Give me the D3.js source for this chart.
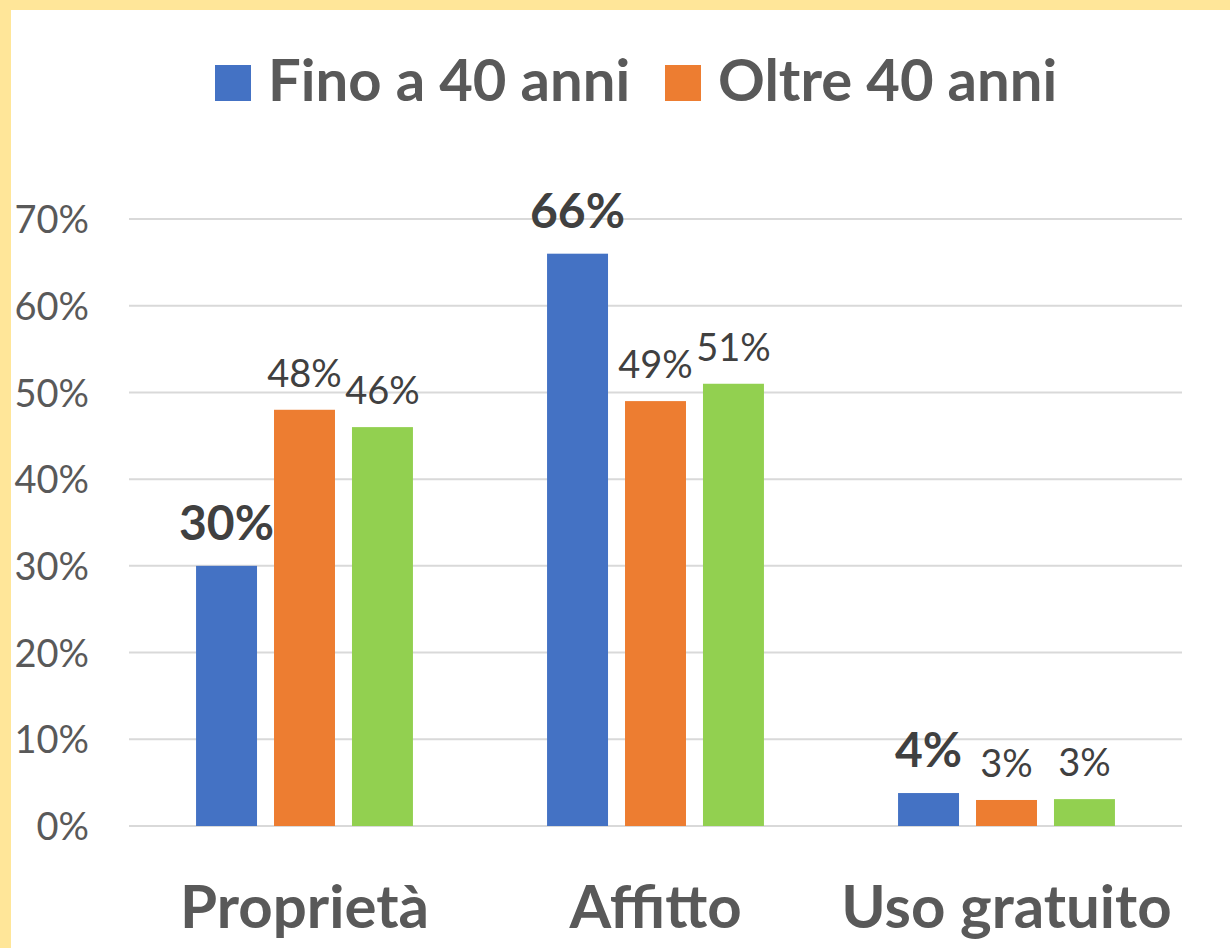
<!DOCTYPE html>
<html>
<head>
<meta charset="utf-8">
<script src="https://cdn.jsdelivr.net/npm/d3@7"></script>
<style>
  body { margin: 0; background: #fff; }
  text { font-family: Lato, "Open Sans", sans-serif; }
</style>
</head>
<body>
<svg width="1230" height="948"></svg>
<script>
var categories = ["Proprietà", "Affitto", "Uso gratuito"];
var seriesNames = ["Fino a 40 anni", "Oltre 40 anni", ""];
var fino40 = [30, 66, 3.8];
var oltre40 = [48, 49, 3.0];
var totale = [46, 51, 3.1];
var yTicks = [0, 10, 20, 30, 40, 50, 60, 70];

var colors = ["#4472C4", "#ED7D31", "#92D050"];
var series = [fino40, oltre40, totale];

var svg = d3.select("svg"),
    width = +svg.attr("width"),
    height = +svg.attr("height");

// yellow frame
svg.append("rect").attr("width", width).attr("height", height).attr("fill", "#FFE699");
svg.append("rect").attr("x", 11).attr("y", 10).attr("width", width - 11).attr("height", height - 10).attr("fill", "#fff");

var x0 = d3.scaleBand()
    .domain(categories)
    .range([129, 1182]);

var x1 = d3.scaleBand()
    .domain([0, 1, 2])
    .range([0, x0.bandwidth()])
    .paddingInner(0.218)
    .paddingOuter(0.86);

var y = d3.scaleLinear()
    .domain([0, 70])
    .range([826, 219]);

// gridlines
svg.append("g")
  .selectAll("line")
  .data(yTicks)
  .enter().append("line")
    .attr("x1", 129)
    .attr("x2", 1182)
    .attr("y1", function(d) { return y(d); })
    .attr("y2", function(d) { return y(d); })
    .attr("stroke", "#d9d9d9")
    .attr("stroke-width", 2);

// y axis labels
var yAxis = svg.append("g")
    .attr("transform", "translate(89,0)")
    .call(d3.axisLeft(y)
      .tickValues(yTicks)
      .tickSize(0)
      .tickPadding(0)
      .tickFormat(function(d) { return d + "%"; }));
yAxis.select(".domain").remove();
yAxis.selectAll("text")
    .attr("fill", "#595959")
    .attr("font-size", 38)
    .attr("font-family", "Lato, sans-serif")
    .attr("dy", "0.36em");

// bars
var groups = svg.append("g")
  .selectAll("g")
  .data(categories)
  .enter().append("g")
    .attr("transform", function(d) { return "translate(" + x0(d) + ",0)"; });

groups.selectAll("rect")
  .data(function(d, i) { return series.map(function(s, k) { return { k: k, v: s[i] }; }); })
  .enter().append("rect")
    .attr("x", function(d) { return x1(d.k); })
    .attr("width", x1.bandwidth())
    .attr("y", function(d) { return y(d.v); })
    .attr("height", function(d) { return y(0) - y(d.v); })
    .attr("fill", function(d) { return colors[d.k]; });

groups.selectAll(".lab")
  .data(function(d, i) { return series.map(function(s, k) { return { k: k, v: s[i] }; }); })
  .enter().append("text")
    .attr("class", "lab")
    .attr("x", function(d) { return x1(d.k) + x1.bandwidth() / 2; })
    .attr("y", function(d) { return y(d.v) - (d.k === 0 ? 26 : 23); })
    .attr("text-anchor", "middle")
    .attr("fill", "#404040")
    .attr("font-weight", function(d) { return d.k === 0 ? "bold" : "normal"; })
    .attr("font-size", function(d) { return d.k === 0 ? 48 : 38; })
    .text(function(d) { return Math.round(d.v) + "%"; });

// category labels
svg.append("g")
  .selectAll("text")
  .data(categories)
  .enter().append("text")
    .attr("x", function(d) { return x0(d) + x0.bandwidth() / 2; })
    .attr("y", 928)
    .attr("text-anchor", "middle")
    .attr("fill", "#595959")
    .attr("font-weight", "bold")
    .attr("font-size", 60)
    .text(function(d) { return d; });

// legend
var legend = [
  { name: seriesNames[0], color: colors[0], x: 215 },
  { name: seriesNames[1], color: colors[1], x: 665 }
];
var lg = svg.append("g")
  .selectAll("g")
  .data(legend)
  .enter().append("g")
    .attr("transform", function(d) { return "translate(" + d.x + ",65)"; });
lg.append("rect")
    .attr("width", 36)
    .attr("height", 36)
    .attr("fill", function(d) { return d.color; });
lg.append("text")
    .attr("x", 53)
    .attr("y", 36)
    .attr("fill", "#595959")
    .attr("font-weight", "bold")
    .attr("font-size", 58)
    .text(function(d) { return d.name; });
</script>
</body>
</html>
